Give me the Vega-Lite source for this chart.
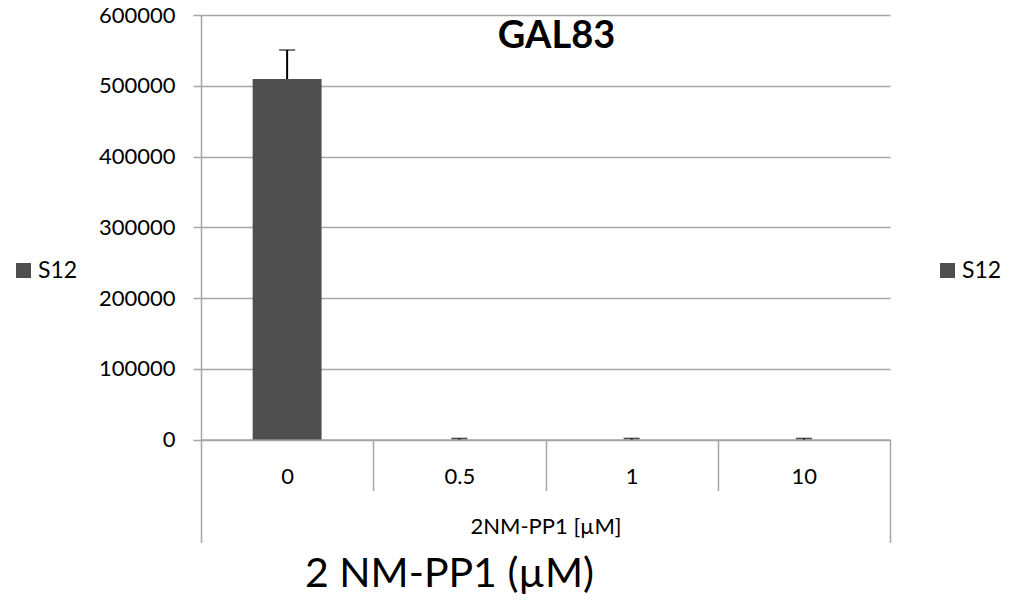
{
  "$schema": "https://vega.github.io/schema/vega-lite/v6.json",
  "width": 689,
  "height": 424.5,
  "autosize": {"type": "none"},
  "padding": {"left": 201, "top": 15, "right": 131, "bottom": 164},
  "background": "white",
  "config": {
    "font": "Lato",
    "view": {"stroke": null},
    "axis": {"labelColor": "#000", "titleColor": "#000", "domainColor": "#a6a6a6", "tickColor": "#a6a6a6", "gridColor": "#a6a6a6", "domainWidth": 1.5, "tickWidth": 1.5, "gridWidth": 1.5},
    "legend": {"labelColor": "#000", "labelFont": "Lato"}
  },
  "title": {"text": "GAL83", "fontSize": 38, "fontWeight": "bold", "color": "#000", "anchor": "middle", "offset": 0, "baseline": "alphabetic", "dy": 82, "dx": 11},
  "resolve": {"scale": {"x": "independent", "color": "independent"}, "axis": {"x": "independent"}, "legend": {"color": "independent"}},
  "layer": [
    {
      "data": {"values": [
        {"conc": "0", "val": 509500, "hi": 550500, "s": "S12"},
        {"conc": "0.5", "val": 0, "hi": 1500, "s": "S12"},
        {"conc": "1", "val": 0, "hi": 1500, "s": "S12"},
        {"conc": "10", "val": 0, "hi": 1500, "s": "S12"}
      ]},
      "encoding": {
        "x": {"field": "conc", "type": "nominal", "sort": null,
          "scale": {"paddingInner": 0, "paddingOuter": 0},
          "axis": {"orient": "bottom", "title": null, "labelAngle": 0, "tickBand": "extent", "tickSize": 51, "labelFontSize": 22, "labelBaseline": "middle", "labelPadding": -14, "grid": false}}
      },
      "layer": [
        {
          "mark": {"type": "bar", "width": {"band": 0.4}},
          "encoding": {
            "y": {"field": "val", "type": "quantitative",
              "scale": {"domain": [0, 600000], "nice": false},
              "axis": {"values": [0, 100000, 200000, 300000, 400000, 500000, 600000], "format": "d", "title": null, "grid": true, "tickSize": 8, "labelFontSize": 22, "labelPadding": 18}},
            "color": {"field": "s", "type": "nominal", "scale": {"range": ["#4f4f4f"]},
              "legend": {"orient": "none", "legendX": -189, "legendY": 244, "title": null, "symbolType": "square", "symbolSize": 225, "symbolStrokeWidth": 0, "labelFontSize": 23, "labelOffset": 3}}
          }
        },
        {
          "mark": {"type": "rule", "color": "#000", "strokeWidth": 2},
          "encoding": {"y": {"field": "val", "type": "quantitative"}, "y2": {"field": "hi"}}
        },
        {
          "mark": {"type": "tick", "color": "#000", "size": 16, "thickness": 1.5, "orient": "horizontal"},
          "encoding": {"y": {"field": "hi", "type": "quantitative"}}
        }
      ]
    },
    {
      "data": {"values": [{"grp": "2NM-PP1 [µM]", "s2": "S12"}]},
      "mark": {"type": "square", "opacity": 0},
      "encoding": {
        "x": {"field": "grp", "type": "nominal",
          "scale": {"paddingInner": 0, "paddingOuter": 0},
          "axis": {"orient": "bottom", "offset": 51, "domain": false, "labelAngle": 0, "tickBand": "extent", "tickSize": 52, "labelFontSize": 22, "labelBaseline": "middle", "labelPadding": -16,
            "title": "2 NM-PP1 (µM)", "titleFontSize": 41, "titleFontWeight": "normal", "titleX": 248, "titleY": 96, "titleBaseline": "alphabetic", "titleAlign": "center"}},
        "color": {"field": "s2", "type": "nominal", "scale": {"range": ["#4f4f4f"]},
          "legend": {"orient": "none", "legendX": 735, "legendY": 244, "title": null, "symbolType": "square", "symbolSize": 225, "symbolStrokeWidth": 0, "labelFontSize": 23, "labelOffset": 3,
            "encode": {"symbols": {"update": {"opacity": {"value": 1}, "fillOpacity": {"value": 1}}}}}}
      }
    }
  ]
}
